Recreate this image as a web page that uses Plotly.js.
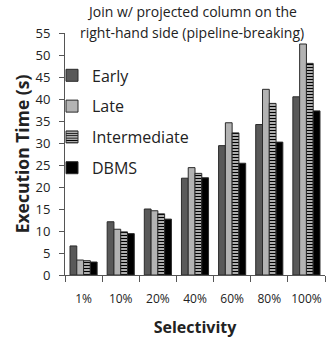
<!DOCTYPE html>
<html><head><meta charset="utf-8">
<script src="https://cdn.plot.ly/plotly-3.0.1.min.js"></script>
<style>html,body{margin:0;padding:0;background:#fff;}#chart{width:328px;height:341px;}</style>
</head><body><div id="chart"></div>
<script>
const categories = ['1%','10%','20%','40%','60%','80%','100%'];
const early = [6.6, 12.1, 15.0, 22.0, 29.4, 34.2, 40.5];
const late = [3.4, 10.4, 14.6, 24.4, 34.6, 42.2, 52.5];
const intermediate = [3.25, 9.8, 13.9, 23.1, 32.3, 39.0, 48.1];
const dbms = [2.95, 9.4, 12.7, 22.1, 25.4, 30.2, 37.3];
const yTicks = [0,5,10,15,20,25,30,35,40,45,50,55];
const titleLines = ['Join w/ projected column on the', 'right-hand side (pipeline-breaking)'];

const font = 'Open Sans, sans-serif';
const edge = {color:'#2a2a2a', width:1};
const traces = [
  {type:'bar', name:'Early', legendgroup:'a', x:categories, y:early, marker:{color:'#595959', line:edge}},
  {type:'bar', name:'Late', legendgroup:'b', x:categories, y:late, marker:{color:'#b3b3b3', line:edge}},
  {type:'bar', name:'Intermediate', legendgroup:'c', x:categories, y:intermediate, marker:{color:'#ffffff', line:edge, pattern:{shape:'-', fgcolor:'#000', bgcolor:'#e6e6e6', size:3, solidity:0.5}}},
  {type:'bar', name:'DBMS', legendgroup:'d', x:categories, y:dbms, marker:{color:'#000000', line:edge}}
];
const layout = {
  width:328, height:341,
  margin:{l:65, r:3, t:33, b:66},
  paper_bgcolor:'#fff', plot_bgcolor:'#fff',
  font:{family:font, color:'#222', size:12},
  barmode:'group', bargap:0.27, bargroupgap:0,
  showlegend:true,
  legend:{x:-0.05, y:0.895, xanchor:'left', yanchor:'top', bgcolor:'rgba(0,0,0,0)', font:{size:16, family:font, color:'#222'}, tracegroupgap:7, itemwidth:30, traceorder:'grouped'},
  annotations:[
    {text:titleLines[0], xref:'paper', yref:'paper', x:0.488, y:1.087, xanchor:'center', yanchor:'middle', showarrow:false, font:{size:14, family:font, color:'#222'}},
    {text:titleLines[1], xref:'paper', yref:'paper', x:0.488, y:1.004, xanchor:'center', yanchor:'middle', showarrow:false, font:{size:14, family:font, color:'#222'}}
  ],
  xaxis:{type:'category', showline:true, linecolor:'#555', linewidth:1, ticks:'outside', tickson:'boundaries', ticklen:6, tickcolor:'#555', showgrid:false, tickangle:0, tickfont:{size:12, family:font, color:'#222'}, ticklabelstandoff:13,
    title:{text:'<b>Selectivity</b>', font:{size:16, family:font, color:'#222'}, standoff:15}},
  yaxis:{range:[0,55], tickvals:yTicks, showline:true, linecolor:'#555', linewidth:1, ticks:'outside', ticklen:5, tickcolor:'#555', showgrid:false, zeroline:false, tickfont:{size:13, family:font, color:'#222'}, ticklabelstandoff:6,
    title:{text:'<b>Execution Time (s)</b>', font:{size:17.5, family:font, color:'#222'}, standoff:1}}
};
Plotly.newPlot('chart', traces, layout, {staticPlot:true, displayModeBar:false});
</script></body></html>
